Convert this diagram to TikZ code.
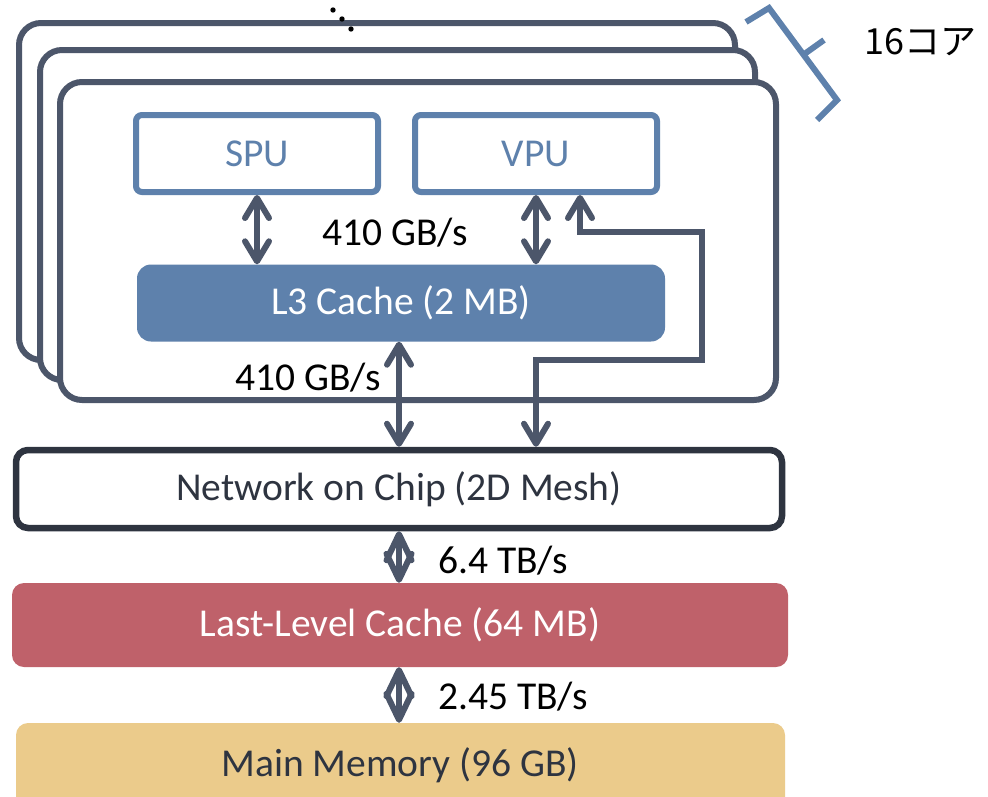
\documentclass[tikz,border=0pt]{standalone}
\usepackage{fontspec}
\setmainfont{Carlito}
\newfontfamily\jpfont{Noto Sans CJK JP}
\usetikzlibrary{arrows.meta,calc}

\definecolor{frameC}{HTML}{4C566A}
\definecolor{blueC}{HTML}{5E81AC}
\definecolor{darkC}{HTML}{2E3440}
\definecolor{redC}{HTML}{BF616A}
\definecolor{yellowC}{HTML}{EBCB8B}

\tikzset{
  corebox/.style={draw=frameC, fill=white, line width=6pt, rounded corners=22pt},
  unitbox/.style={draw=blueC, fill=white, line width=6pt, rounded corners=6pt,
    text=blueC, minimum width=242pt, minimum height=77pt, inner sep=0pt},
  filledbox/.style={rounded corners=14pt, inner sep=0pt, text=white},
  label/.style={text=black, inner sep=0pt},
  barb/.tip={Straight Barb[length=20pt,width=24pt,round]},
  shortbarb/.tip={Straight Barb[length=26pt,width=25pt,round]},
  link/.style={draw=frameC, line width=6pt, barb-barb},
  shortlink/.style={draw=frameC, line width=6pt, shortbarb-shortbarb},
  bigfont/.style={font=\fontsize{39.5}{46}\selectfont}
}

\begin{document}
\begin{tikzpicture}[x=1pt,y=-1pt,bigfont]
\useasboundingbox (0,0) rectangle (988,796);
\clip (0,0) rectangle (988,796);

% stacked core frames, back to front
\draw[corebox] (19,23) rectangle (735,360);
\draw[corebox] (40,50) rectangle (755,380);
\draw[corebox] (60,82) rectangle (776,400);

% ellipsis above the stack
\foreach \p in {(333,10),(342,19),(351,29)}
  \fill[black] \p circle (2.7pt);

% brace with the core count
\draw[blueC, line width=6pt, line join=miter]
  (746,22) -- (769,8) -- (837,100) -- (817,120);
\draw[blueC, line width=6pt] (803,55) -- (824,40);
\node[anchor=west, inner sep=0pt, font=\jpfont\fontsize{36}{42}\selectfont]
  (cores) at (864,42) {16コア};

% units inside the core
\node[unitbox] (spu) at (257,153.5) {\raisebox{-1.5pt}{SPU}};
\node[unitbox] (vpu) at (536,153.5) {\raisebox{-1.5pt}{VPU}};
\node[filledbox, fill=blueC, minimum width=528pt, minimum height=77pt]
  (l3) at (401,303) {L3 Cache (2 MB)};

% memory hierarchy below
\node[draw=darkC, fill=white, line width=6.5pt, rounded corners=12pt,
  minimum width=766pt, minimum height=78pt, inner sep=0pt, text=darkC]
  (noc) at (399,489) {Network on Chip (2D Mesh)};
\node[filledbox, fill=redC, rounded corners=12pt, minimum width=776pt,
  minimum height=84pt] (llc) at (400,625) {Last-Level Cache (64 MB)};
\node[filledbox, fill=yellowC, rounded corners=12pt, minimum width=769pt,
  minimum height=100pt] (mem) at (400.5,773) {};
\node[text=darkC, inner sep=0pt] (memtext) at (400,765) {Main Memory (96 GB)};

% bandwidth links
\draw[link] (spu.south) -- (spu.south |- l3.north);
\draw[link] (vpu.south) -- (vpu.south |- l3.north);
\draw[link] (l3.south -| noc.north) -- (noc.north);
\draw[link, line join=miter]
  ([xshift=44pt]vpu.south) -- ++(0,37) -- (702,232) -- (702,360)
  -- (vpu.south |- 0,360) -- (noc.north -| vpu.south);
\draw[shortlink] (noc.south) -- (noc.south |- llc.north);
\draw[shortlink] (llc.south -| noc.south) -- (noc.south |- mem.north);

% bandwidth labels
\node[label] (bw1) at (395,233) {410 GB/s};
\node[label] (bw2) at (308,378) {410 GB/s};
\node[label, anchor=west] (bw3) at (438,561) {6.4 TB/s};
\node[label, anchor=west] (bw4) at (438,697) {2.45 TB/s};
\end{tikzpicture}
\end{document}
